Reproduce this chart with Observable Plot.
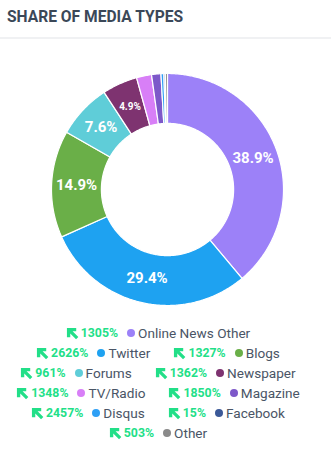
<!DOCTYPE html>
<html>
<head>
<meta charset="utf-8">
<script src="https://cdn.jsdelivr.net/npm/d3@7"></script>
<script src="https://cdn.jsdelivr.net/npm/@observablehq/plot@0.6"></script>
<style>
  html, body { margin: 0; padding: 0; background: #ffffff; font-family: Roboto, "Noto Sans", sans-serif; }
  #header { height: 37px; line-height: 35px; padding-left: 7px; font-size: 15.6px; font-weight: 700; color: #3b4858; border-bottom: 2px solid #f0f1f3; }
  #chart svg { display: block; }
  #legend { padding: 4px 15px 0 0; }
  .row { display: flex; justify-content: center; gap: 23px; height: 20px; align-items: center; }
  .item { display: flex; align-items: center; white-space: nowrap; }
  .chg { color: #22df88; font-weight: 700; font-size: 12.3px; margin-left: 2px; margin-right: 9px; }
  .dot { width: 8px; height: 8px; border-radius: 50%; margin-right: 3px; }
  .name { color: #4a5566; font-size: 13.6px; }
  .arrow { width: 13px; height: 13px; display: block; }
</style>
</head>
<body>
<div id="header">SHARE OF MEDIA TYPES</div>
<div id="chart"></div>
<div id="legend"></div>
<script>
// Data
const names = ["Online News Other", "Twitter", "Blogs", "Forums", "Newspaper", "TV/Radio", "Magazine", "Disqus", "Facebook", "Other"];
const shares = [38.9, 29.4, 14.9, 7.6, 4.9, 2.1, 1.3, 0.4, 0.2, 0.3];
const changes = [1305, 2626, 1327, 961, 1362, 1348, 1850, 2457, 15, 503];
const colors = ["#9c81f8", "#1ea2f1", "#6aaf48", "#5fcdd8", "#7e3370", "#d87ff7", "#7d58c9", "#2e9ff5", "#3b5998", "#8a8a8a"];
const legendRows = [[0], [1, 2], [3, 4], [5, 6], [7, 8], [9]];

const inner = 0.57;
const rows = names.map((n, i) => ({name: n, share: shares[i]}));
const arcs = d3.pie().sort(null).value(d => d.share).startAngle(0).endAngle(2 * Math.PI)(rows);

const pts = [];
for (const a of arcs) {
  const steps = Math.max(2, Math.ceil((a.endAngle - a.startAngle) / 0.01));
  for (let k = 0; k <= steps; k++) {
    const t = a.startAngle + (a.endAngle - a.startAngle) * k / steps;
    pts.push({name: a.data.name, x: Math.sin(t), y: Math.cos(t)});
  }
  for (let k = steps; k >= 0; k--) {
    const t = a.startAngle + (a.endAngle - a.startAngle) * k / steps;
    pts.push({name: a.data.name, x: inner * Math.sin(t), y: inner * Math.cos(t)});
  }
}
const mid = (1 + inner) / 2;
const labels = arcs.filter(a => a.data.share >= 4.5).map(a => {
  const t = (a.startAngle + a.endAngle) / 2;
  return {x: mid * Math.sin(t), y: mid * Math.cos(t), text: a.data.share.toFixed(1) + "%", small: a.data.share < 6};
});

const chart = Plot.plot({
  width: 331,
  height: 280,
  marginLeft: 51,
  marginRight: 48,
  marginTop: 34,
  marginBottom: 14,
  x: {domain: [-1, 1], axis: null},
  y: {domain: [-1, 1], axis: null},
  color: {domain: names, range: colors},
  style: {fontFamily: "Roboto, sans-serif"},
  marks: [
    Plot.line(pts, {x: "x", y: "y", z: "name", fill: "name", stroke: "white", strokeWidth: 1.2, curve: "linear-closed"}),
    Plot.text(labels.filter(d => !d.small), {x: "x", y: "y", text: "text", fill: "white", fontWeight: "bold", fontSize: 15}),
    Plot.text(labels.filter(d => d.small), {x: "x", y: "y", text: "text", fill: "white", fontWeight: "bold", fontSize: 10})
  ]
});
document.getElementById("chart").appendChild(chart);

// Legend
const legend = document.getElementById("legend");
const arrowSvg = '<svg class="arrow" viewBox="0 0 14 14"><path d="M1 1 H11 V4.6 H7.1 L13.3 10.8 L10.8 13.3 L4.6 7.1 V11 H1 Z" fill="#22df88"/></svg>';
legendRows.forEach(r => {
  const row = document.createElement("div");
  row.className = "row";
  r.forEach(i => {
    const it = document.createElement("div");
    it.className = "item";
    it.innerHTML = arrowSvg + '<span class="chg">' + changes[i] + '%</span><span class="dot" style="background:' + colors[i] + '"></span><span class="name">' + names[i] + '</span>';
    row.appendChild(it);
  });
  legend.appendChild(row);
});
</script>
</body>
</html>
